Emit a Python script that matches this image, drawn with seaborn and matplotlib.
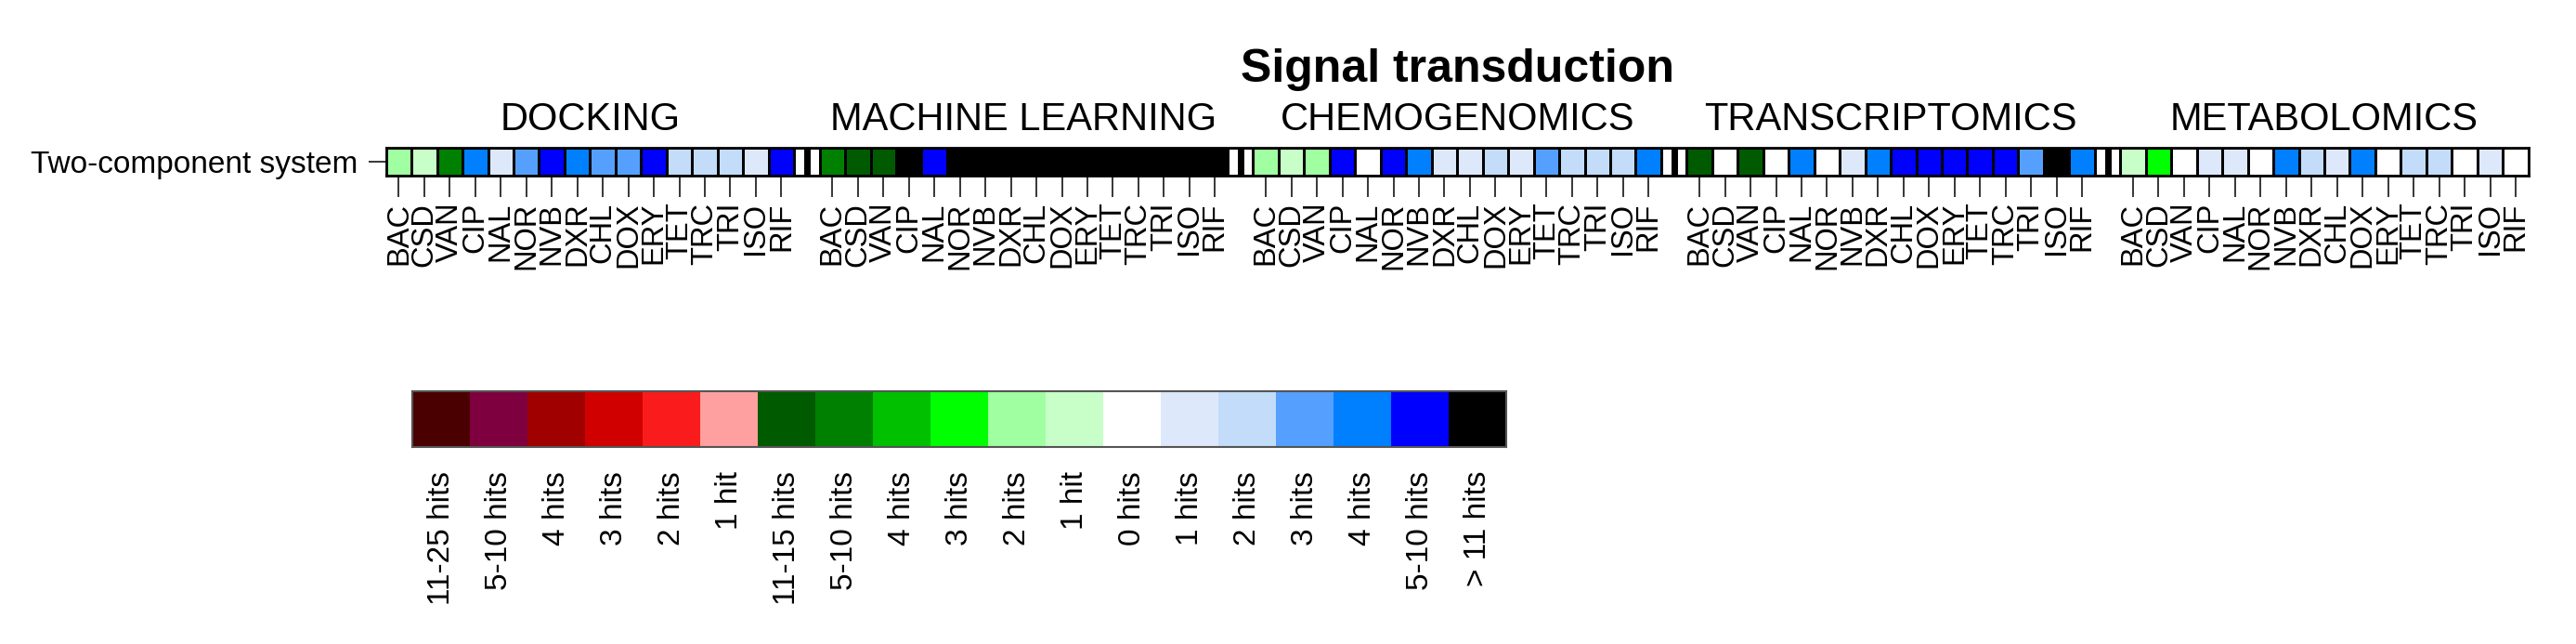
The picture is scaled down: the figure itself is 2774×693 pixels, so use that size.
import numpy as np
import matplotlib
matplotlib.use("Agg")
import matplotlib.pyplot as plt
import seaborn as sns
from matplotlib.colors import ListedColormap

# ---------------- data ----------------
title = "Signal transduction"
row_label = "Two-component system"
groups = ["DOCKING", "MACHINE LEARNING", "CHEMOGENOMICS", "TRANSCRIPTOMICS", "METABOLOMICS"]
drugs = ["BAC", "CSD", "VAN", "CIP", "NAL", "NOR", "NVB", "DXR",
         "CHL", "DOX", "ERY", "TET", "TRC", "TRI", "ISO", "RIF"]

level_labels = ["11-25 hits", "5-10 hits", "4 hits", "3 hits", "2 hits", "1 hit",
                "11-15 hits", "5-10 hits", "4 hits", "3 hits", "2 hits", "1 hit",
                "0 hits", "1 hits", "2 hits", "3 hits", "4 hits", "5-10 hits", "> 11 hits"]
level_colors = ["#4A0000", "#7F003F", "#A00000", "#D00000", "#FA1C1C", "#FFA0A0",
                "#005A00", "#008000", "#00C000", "#00FF00", "#A0FFA0", "#C8FFC8",
                "#FFFFFF", "#DDE8FA", "#C2DCFA", "#55A0FF", "#0080FF", "#0000FF", "#000000"]

# values are indices into the level list above
docking          = [10, 11, 7, 16, 13, 15, 17, 16, 15, 15, 17, 14, 14, 14, 13, 17]
machine_learning = [7, 6, 6, 18, 17, 18, 18, 18, 18, 18, 18, 18, 18, 18, 18, 18]
chemogenomics    = [10, 11, 10, 17, 12, 17, 16, 13, 13, 14, 13, 15, 14, 14, 14, 16]
transcriptomics  = [6, 12, 6, 12, 16, 12, 13, 16, 17, 17, 17, 17, 17, 15, 18, 16]
metabolomics     = [11, 9, 12, 13, 13, 12, 16, 14, 13, 16, 12, 14, 14, 12, 13, 12]
group_values = [docking, machine_learning, chemogenomics, transcriptomics, metabolomics]

# ---------------- style ----------------
sns.set_style("white")
plt.rcParams["font.family"] = ["Liberation Sans", "DejaVu Sans"]
plt.rcParams["text.color"] = "black"
plt.rcParams["xtick.color"] = "black"
plt.rcParams["ytick.color"] = "black"
plt.rcParams["xtick.labelcolor"] = "black"
plt.rcParams["ytick.labelcolor"] = "black"

W, H = 2774, 693
fig = plt.figure(figsize=(W / 100, H / 100), dpi=100)

cmap = ListedColormap(level_colors)

# build the row with a blank separator column between groups
row = []
tick_pos, tick_lab, group_centers, sep_cols = [], [], [], []
for gi, vals in enumerate(group_values):
    if gi > 0:
        sep_cols.append(len(row))
        row.append(np.nan)
    start = len(row)
    for d, v in zip(drugs, vals):
        tick_pos.append(len(row) + 0.5)
        tick_lab.append(d)
        row.append(v)
    group_centers.append(start + len(vals) / 2)
mat = np.array(row, dtype=float).reshape(1, -1)

# main heatmap axes (pixel geometry from reference)
x0, x1 = 415.7, 2722.7
ytop, ybot = 159.0, 188.7
ax = fig.add_axes([x0 / W, (H - ybot) / H, (x1 - x0) / W, (ybot - ytop) / H])
sns.heatmap(mat, ax=ax, cmap=cmap, vmin=-0.5, vmax=len(level_colors) - 0.5,
            cbar=False, linewidths=1.8, linecolor="black",
            xticklabels=False, yticklabels=False)
for c in sep_cols:
    ax.axvline(c + 0.5, color="black", lw=5)
for s in ax.spines.values():
    s.set_visible(True)
    s.set_linewidth(2.0)
    s.set_color("black")

ax.set_xticks(tick_pos)
ax.set_xticklabels(tick_lab, rotation=90)
ax.set_yticks([0.5])
ax.set_yticklabels([row_label], rotation=0)
ax.tick_params(axis="x", bottom=True, length=16.6, width=1.1, pad=4.3,
               labelsize=23.5, color="black", labelcolor="black")
ax.tick_params(axis="y", left=True, length=14, width=1.1, pad=8,
               labelsize=24, color="black", labelcolor="black")

for gname, cx in zip(groups, group_centers):
    ax.annotate(gname, xy=(cx, 1.0), xycoords=("data", "axes fraction"),
                xytext=(0, 13.5), textcoords="offset points",
                ha="center", va="baseline", fontsize=30, color="black")

fig.text((x0 + x1) / 2 / W, (H - 88) / H, title, ha="center", va="baseline",
         fontsize=36, fontweight="bold", color="black")

# legend colour key
lx0, lx1 = 444.3, 1622.0
lytop, lybot = 421.0, 481.0
lax = fig.add_axes([lx0 / W, (H - lybot) / H, (lx1 - lx0) / W, (lybot - lytop) / H])
key = np.arange(len(level_colors), dtype=float).reshape(1, -1)
sns.heatmap(key, ax=lax, cmap=cmap, vmin=-0.5, vmax=len(level_colors) - 0.5,
            cbar=False, xticklabels=False, yticklabels=False)
lax.set_xticks(np.arange(len(level_labels)) + 0.5)
lax.set_xticklabels(level_labels, rotation=90)
lax.tick_params(axis="x", direction="in", top=True, bottom=True, length=7,
                width=1.0, pad=18.7, labelsize=24, color="#111111", labelcolor="black")
lax.tick_params(axis="y", left=False)
for s in lax.spines.values():
    s.set_visible(True)
    s.set_linewidth(1.5)
    s.set_color("#555555")

fig.savefig("out.png", dpi=100)
